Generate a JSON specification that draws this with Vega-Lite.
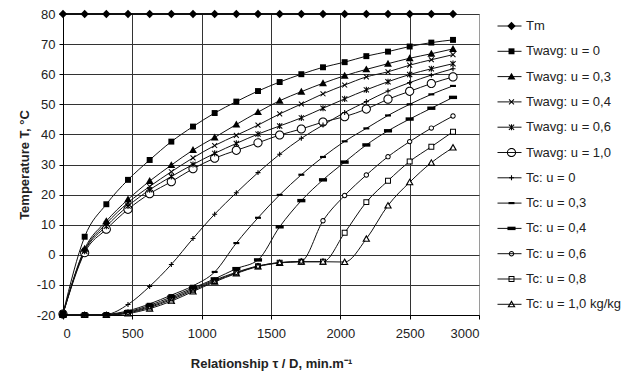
{
"$schema": "https://vega.github.io/schema/vega-lite/v6.json",
"width": 416, "height": 301,
"autosize": {"type": "none"},
"padding": {"left": 63, "top": 14, "right": 145, "bottom": 61},
"background": "white",
"config": {
  "font": "Liberation Sans",
  "view": {"stroke": "#9a9a9a", "strokeWidth": 1},
  "axis": {"labelFont": "Liberation Sans", "labelFontSize": 13, "labelColor": "#222", "titleFont": "Liberation Sans", "titleFontSize": 13, "titleFontWeight": "bold", "titleColor": "#222", "domainColor": "#000", "tickColor": "#000", "tickSize": 4, "gridColor": "#333", "gridOpacity": 1, "gridWidth": 1}
},
"data": {"values": [
{"s":"Tm","x":0,"T":80},{"s":"Tm","x":156.25,"T":80},{"s":"Tm","x":312.5,"T":80},{"s":"Tm","x":468.75,"T":80},{"s":"Tm","x":625,"T":80},{"s":"Tm","x":781.25,"T":80},{"s":"Tm","x":937.5,"T":80},{"s":"Tm","x":1093.75,"T":80},{"s":"Tm","x":1250,"T":80},{"s":"Tm","x":1406.25,"T":80},{"s":"Tm","x":1562.5,"T":80},{"s":"Tm","x":1718.75,"T":80},{"s":"Tm","x":1875,"T":80},{"s":"Tm","x":2031.25,"T":80},{"s":"Tm","x":2187.5,"T":80},{"s":"Tm","x":2343.75,"T":80},{"s":"Tm","x":2500,"T":80},{"s":"Tm","x":2656.25,"T":80},{"s":"Tm","x":2812.5,"T":80},
{"s":"Twavg: u = 0","x":0,"T":-19.5},{"s":"Twavg: u = 0","x":156.25,"T":6.0},{"s":"Twavg: u = 0","x":312.5,"T":16.8},{"s":"Twavg: u = 0","x":468.75,"T":24.9},{"s":"Twavg: u = 0","x":625,"T":31.5},{"s":"Twavg: u = 0","x":781.25,"T":37.6},{"s":"Twavg: u = 0","x":937.5,"T":42.6},{"s":"Twavg: u = 0","x":1093.75,"T":47.1},{"s":"Twavg: u = 0","x":1250,"T":50.9},{"s":"Twavg: u = 0","x":1406.25,"T":54.4},{"s":"Twavg: u = 0","x":1562.5,"T":57.4},{"s":"Twavg: u = 0","x":1718.75,"T":60.0},{"s":"Twavg: u = 0","x":1875,"T":62.3},{"s":"Twavg: u = 0","x":2031.25,"T":64.0},{"s":"Twavg: u = 0","x":2187.5,"T":66.0},{"s":"Twavg: u = 0","x":2343.75,"T":67.5},{"s":"Twavg: u = 0","x":2500,"T":69.2},{"s":"Twavg: u = 0","x":2656.25,"T":70.5},{"s":"Twavg: u = 0","x":2812.5,"T":71.4},
{"s":"Twavg: u = 0,3","x":0,"T":-19.5},{"s":"Twavg: u = 0,3","x":156.25,"T":2.0},{"s":"Twavg: u = 0,3","x":312.5,"T":11.2},{"s":"Twavg: u = 0,3","x":468.75,"T":18.4},{"s":"Twavg: u = 0,3","x":625,"T":24.5},{"s":"Twavg: u = 0,3","x":781.25,"T":29.8},{"s":"Twavg: u = 0,3","x":937.5,"T":34.8},{"s":"Twavg: u = 0,3","x":1093.75,"T":39.0},{"s":"Twavg: u = 0,3","x":1250,"T":43.3},{"s":"Twavg: u = 0,3","x":1406.25,"T":47.4},{"s":"Twavg: u = 0,3","x":1562.5,"T":51.2},{"s":"Twavg: u = 0,3","x":1718.75,"T":54.2},{"s":"Twavg: u = 0,3","x":1875,"T":57.0},{"s":"Twavg: u = 0,3","x":2031.25,"T":59.5},{"s":"Twavg: u = 0,3","x":2187.5,"T":61.6},{"s":"Twavg: u = 0,3","x":2343.75,"T":63.5},{"s":"Twavg: u = 0,3","x":2500,"T":65.3},{"s":"Twavg: u = 0,3","x":2656.25,"T":66.8},{"s":"Twavg: u = 0,3","x":2812.5,"T":68.4},
{"s":"Twavg: u = 0,4","x":0,"T":-19.5},{"s":"Twavg: u = 0,4","x":156.25,"T":1.5},{"s":"Twavg: u = 0,4","x":312.5,"T":10.4},{"s":"Twavg: u = 0,4","x":468.75,"T":17.3},{"s":"Twavg: u = 0,4","x":625,"T":22.7},{"s":"Twavg: u = 0,4","x":781.25,"T":27.6},{"s":"Twavg: u = 0,4","x":937.5,"T":32.2},{"s":"Twavg: u = 0,4","x":1093.75,"T":36.3},{"s":"Twavg: u = 0,4","x":1250,"T":39.7},{"s":"Twavg: u = 0,4","x":1406.25,"T":43.1},{"s":"Twavg: u = 0,4","x":1562.5,"T":46.8},{"s":"Twavg: u = 0,4","x":1718.75,"T":50.1},{"s":"Twavg: u = 0,4","x":1875,"T":53.5},{"s":"Twavg: u = 0,4","x":2031.25,"T":56.4},{"s":"Twavg: u = 0,4","x":2187.5,"T":59.1},{"s":"Twavg: u = 0,4","x":2343.75,"T":60.8},{"s":"Twavg: u = 0,4","x":2500,"T":63.0},{"s":"Twavg: u = 0,4","x":2656.25,"T":64.8},{"s":"Twavg: u = 0,4","x":2812.5,"T":66.5},
{"s":"Twavg: u = 0,6","x":0,"T":-19.5},{"s":"Twavg: u = 0,6","x":156.25,"T":1.2},{"s":"Twavg: u = 0,6","x":312.5,"T":9.5},{"s":"Twavg: u = 0,6","x":468.75,"T":16.2},{"s":"Twavg: u = 0,6","x":625,"T":21.6},{"s":"Twavg: u = 0,6","x":781.25,"T":26.0},{"s":"Twavg: u = 0,6","x":937.5,"T":30.0},{"s":"Twavg: u = 0,6","x":1093.75,"T":33.7},{"s":"Twavg: u = 0,6","x":1250,"T":37.0},{"s":"Twavg: u = 0,6","x":1406.25,"T":40.1},{"s":"Twavg: u = 0,6","x":1562.5,"T":42.8},{"s":"Twavg: u = 0,6","x":1718.75,"T":45.5},{"s":"Twavg: u = 0,6","x":1875,"T":48.7},{"s":"Twavg: u = 0,6","x":2031.25,"T":51.8},{"s":"Twavg: u = 0,6","x":2187.5,"T":54.8},{"s":"Twavg: u = 0,6","x":2343.75,"T":57.5},{"s":"Twavg: u = 0,6","x":2500,"T":59.9},{"s":"Twavg: u = 0,6","x":2656.25,"T":61.8},{"s":"Twavg: u = 0,6","x":2812.5,"T":63.5},
{"s":"Twavg: u = 1,0","x":0,"T":-19.7},{"s":"Twavg: u = 1,0","x":156.25,"T":0.7},{"s":"Twavg: u = 1,0","x":312.5,"T":8.5},{"s":"Twavg: u = 1,0","x":468.75,"T":15.1},{"s":"Twavg: u = 1,0","x":625,"T":20.3},{"s":"Twavg: u = 1,0","x":781.25,"T":24.3},{"s":"Twavg: u = 1,0","x":937.5,"T":28.6},{"s":"Twavg: u = 1,0","x":1093.75,"T":32.1},{"s":"Twavg: u = 1,0","x":1250,"T":34.7},{"s":"Twavg: u = 1,0","x":1406.25,"T":37.2},{"s":"Twavg: u = 1,0","x":1562.5,"T":39.8},{"s":"Twavg: u = 1,0","x":1718.75,"T":41.8},{"s":"Twavg: u = 1,0","x":1875,"T":44.1},{"s":"Twavg: u = 1,0","x":2031.25,"T":45.9},{"s":"Twavg: u = 1,0","x":2187.5,"T":48.4},{"s":"Twavg: u = 1,0","x":2343.75,"T":51.7},{"s":"Twavg: u = 1,0","x":2500,"T":54.3},{"s":"Twavg: u = 1,0","x":2656.25,"T":56.9},{"s":"Twavg: u = 1,0","x":2812.5,"T":59.1},
{"s":"Tc: u = 0","x":0,"T":-20},{"s":"Tc: u = 0","x":156.25,"T":-20},{"s":"Tc: u = 0","x":312.5,"T":-19.8},{"s":"Tc: u = 0","x":468.75,"T":-16.5},{"s":"Tc: u = 0","x":625,"T":-10.5},{"s":"Tc: u = 0","x":781.25,"T":-3.2},{"s":"Tc: u = 0","x":937.5,"T":5.4},{"s":"Tc: u = 0","x":1093.75,"T":13.5},{"s":"Tc: u = 0","x":1250,"T":20.6},{"s":"Tc: u = 0","x":1406.25,"T":27.3},{"s":"Tc: u = 0","x":1562.5,"T":33.4},{"s":"Tc: u = 0","x":1718.75,"T":38.7},{"s":"Tc: u = 0","x":1875,"T":43.1},{"s":"Tc: u = 0","x":2031.25,"T":47.3},{"s":"Tc: u = 0","x":2187.5,"T":50.9},{"s":"Tc: u = 0","x":2343.75,"T":54.4},{"s":"Tc: u = 0","x":2500,"T":57.2},{"s":"Tc: u = 0","x":2656.25,"T":59.7},{"s":"Tc: u = 0","x":2812.5,"T":61.8},
{"s":"Tc: u = 0,3","x":0,"T":-20},{"s":"Tc: u = 0,3","x":156.25,"T":-20},{"s":"Tc: u = 0,3","x":312.5,"T":-19.8},{"s":"Tc: u = 0,3","x":468.75,"T":-18.6},{"s":"Tc: u = 0,3","x":625,"T":-16.3},{"s":"Tc: u = 0,3","x":781.25,"T":-13.4},{"s":"Tc: u = 0,3","x":937.5,"T":-10.3},{"s":"Tc: u = 0,3","x":1093.75,"T":-5.7},{"s":"Tc: u = 0,3","x":1250,"T":3.9},{"s":"Tc: u = 0,3","x":1406.25,"T":12.3},{"s":"Tc: u = 0,3","x":1562.5,"T":19.9},{"s":"Tc: u = 0,3","x":1718.75,"T":26.6},{"s":"Tc: u = 0,3","x":1875,"T":32.5},{"s":"Tc: u = 0,3","x":2031.25,"T":37.7},{"s":"Tc: u = 0,3","x":2187.5,"T":42.0},{"s":"Tc: u = 0,3","x":2343.75,"T":46.3},{"s":"Tc: u = 0,3","x":2500,"T":50.0},{"s":"Tc: u = 0,3","x":2656.25,"T":53.3},{"s":"Tc: u = 0,3","x":2812.5,"T":56.1},
{"s":"Tc: u = 0,4","x":0,"T":-20},{"s":"Tc: u = 0,4","x":156.25,"T":-20},{"s":"Tc: u = 0,4","x":312.5,"T":-19.9},{"s":"Tc: u = 0,4","x":468.75,"T":-18.9},{"s":"Tc: u = 0,4","x":625,"T":-16.8},{"s":"Tc: u = 0,4","x":781.25,"T":-14.0},{"s":"Tc: u = 0,4","x":937.5,"T":-11.0},{"s":"Tc: u = 0,4","x":1093.75,"T":-8.0},{"s":"Tc: u = 0,4","x":1250,"T":-4.6},{"s":"Tc: u = 0,4","x":1406.25,"T":-1.7},{"s":"Tc: u = 0,4","x":1562.5,"T":9.3},{"s":"Tc: u = 0,4","x":1718.75,"T":18.0},{"s":"Tc: u = 0,4","x":1875,"T":24.9},{"s":"Tc: u = 0,4","x":2031.25,"T":30.8},{"s":"Tc: u = 0,4","x":2187.5,"T":36.5},{"s":"Tc: u = 0,4","x":2343.75,"T":41.2},{"s":"Tc: u = 0,4","x":2500,"T":45.1},{"s":"Tc: u = 0,4","x":2656.25,"T":48.7},{"s":"Tc: u = 0,4","x":2812.5,"T":52.3},
{"s":"Tc: u = 0,6","x":0,"T":-20},{"s":"Tc: u = 0,6","x":156.25,"T":-20},{"s":"Tc: u = 0,6","x":312.5,"T":-19.9},{"s":"Tc: u = 0,6","x":468.75,"T":-19.1},{"s":"Tc: u = 0,6","x":625,"T":-17.2},{"s":"Tc: u = 0,6","x":781.25,"T":-14.5},{"s":"Tc: u = 0,6","x":937.5,"T":-11.4},{"s":"Tc: u = 0,6","x":1093.75,"T":-8.4},{"s":"Tc: u = 0,6","x":1250,"T":-5.8},{"s":"Tc: u = 0,6","x":1406.25,"T":-3.7},{"s":"Tc: u = 0,6","x":1562.5,"T":-2.6},{"s":"Tc: u = 0,6","x":1718.75,"T":-2.1},{"s":"Tc: u = 0,6","x":1875,"T":11.3},{"s":"Tc: u = 0,6","x":2031.25,"T":19.7},{"s":"Tc: u = 0,6","x":2187.5,"T":26.5},{"s":"Tc: u = 0,6","x":2343.75,"T":32.6},{"s":"Tc: u = 0,6","x":2500,"T":37.6},{"s":"Tc: u = 0,6","x":2656.25,"T":42.1},{"s":"Tc: u = 0,6","x":2812.5,"T":46.1},
{"s":"Tc: u = 0,8","x":0,"T":-20},{"s":"Tc: u = 0,8","x":156.25,"T":-20},{"s":"Tc: u = 0,8","x":312.5,"T":-20},{"s":"Tc: u = 0,8","x":468.75,"T":-19.3},{"s":"Tc: u = 0,8","x":625,"T":-17.5},{"s":"Tc: u = 0,8","x":781.25,"T":-14.9},{"s":"Tc: u = 0,8","x":937.5,"T":-11.8},{"s":"Tc: u = 0,8","x":1093.75,"T":-8.7},{"s":"Tc: u = 0,8","x":1250,"T":-6.0},{"s":"Tc: u = 0,8","x":1406.25,"T":-3.8},{"s":"Tc: u = 0,8","x":1562.5,"T":-2.6},{"s":"Tc: u = 0,8","x":1718.75,"T":-2.3},{"s":"Tc: u = 0,8","x":1875,"T":-2.3},{"s":"Tc: u = 0,8","x":2031.25,"T":7.3},{"s":"Tc: u = 0,8","x":2187.5,"T":17.5},{"s":"Tc: u = 0,8","x":2343.75,"T":24.6},{"s":"Tc: u = 0,8","x":2500,"T":31.0},{"s":"Tc: u = 0,8","x":2656.25,"T":35.9},{"s":"Tc: u = 0,8","x":2812.5,"T":40.9},
{"s":"Tc: u = 1,0 kg/kg","x":0,"T":-20},{"s":"Tc: u = 1,0 kg/kg","x":156.25,"T":-20},{"s":"Tc: u = 1,0 kg/kg","x":312.5,"T":-20},{"s":"Tc: u = 1,0 kg/kg","x":468.75,"T":-19.5},{"s":"Tc: u = 1,0 kg/kg","x":625,"T":-17.9},{"s":"Tc: u = 1,0 kg/kg","x":781.25,"T":-15.4},{"s":"Tc: u = 1,0 kg/kg","x":937.5,"T":-12.2},{"s":"Tc: u = 1,0 kg/kg","x":1093.75,"T":-9.0},{"s":"Tc: u = 1,0 kg/kg","x":1250,"T":-6.2},{"s":"Tc: u = 1,0 kg/kg","x":1406.25,"T":-3.9},{"s":"Tc: u = 1,0 kg/kg","x":1562.5,"T":-2.7},{"s":"Tc: u = 1,0 kg/kg","x":1718.75,"T":-2.3},{"s":"Tc: u = 1,0 kg/kg","x":1875,"T":-2.3},{"s":"Tc: u = 1,0 kg/kg","x":2031.25,"T":-2.4},{"s":"Tc: u = 1,0 kg/kg","x":2187.5,"T":5.3},{"s":"Tc: u = 1,0 kg/kg","x":2343.75,"T":16.4},{"s":"Tc: u = 1,0 kg/kg","x":2500,"T":24.1},{"s":"Tc: u = 1,0 kg/kg","x":2656.25,"T":30.6},{"s":"Tc: u = 1,0 kg/kg","x":2812.5,"T":35.6}
]},
"encoding": {
  "x": {"field": "x", "type": "quantitative", "scale": {"domain": [0, 3000], "nice": false},
    "axis": {"values": [0,500,1000,1500,2000,2500,3000], "labelExpr": "'' + datum.value", "title": "Relationship τ / D,  min.m⁻¹", "labelPadding": 8, "titlePadding": 17,
      "gridColor": {"condition": {"test": "datum.value == 3000", "value": "#9a9a9a"}, "value": "#333"}}},
  "y": {"field": "T", "type": "quantitative", "scale": {"domain": [-20, 80], "nice": false},
    "axis": {"values": [-20,-10,0,10,20,30,40,50,60,70,80], "labelExpr": "'' + datum.value", "title": "Temperature  T, °C", "labelPadding": 4, "titlePadding": 5}}
},
"resolve": {"scale": {"shape": "independent"}, "legend": {"shape": "independent"}},
"layer": [
  {"mark": {"type": "line", "interpolate": "monotone", "strokeWidth": 1},
   "encoding": {
     "detail": {"field": "s"},
     "color": {"field": "s", "type": "nominal",
       "sort": ["Tm","Twavg: u = 0","Twavg: u = 0,3","Twavg: u = 0,4","Twavg: u = 0,6","Twavg: u = 1,0","Tc: u = 0","Tc: u = 0,3","Tc: u = 0,4","Tc: u = 0,6","Tc: u = 0,8","Tc: u = 1,0 kg/kg"],
       "scale": {"range": ["#111","#111","#111","#111","#111","#111","#111","#111","#111","#111","#111","#111"]},
       "legend": {"orient": "none", "legendX": 434, "legendY": -0.5, "title": null, "padding": 0, "symbolType": "stroke", "symbolSize": 576, "symbolStrokeWidth": 1, "rowPadding": 5.3, "labelFont": "Liberation Sans", "labelFontSize": 13, "labelColor": "#222", "labelOffset": 4, "labelLimit": 300}}
   }},
  {"transform": [{"filter": "datum.s == 'Tm'"}],
   "mark": {"type": "line", "strokeWidth": 2, "color": "#111"},
   "encoding": {}},
  {"transform": [{"filter": {"field": "s", "oneOf": ["Twavg: u = 1,0", "Tc: u = 0,6", "Tc: u = 0,8", "Tc: u = 1,0 kg/kg"]}}],
   "mark": {"type": "point", "size": 81, "filled": true, "fill": "#fff", "strokeWidth": 0, "opacity": 1},
   "encoding": {
     "shape": {"field": "s", "type": "nominal", "legend": null,
       "scale": {"domain": ["Twavg: u = 1,0", "Tc: u = 0,6", "Tc: u = 0,8", "Tc: u = 1,0 kg/kg"],
         "range": ["M-0.85,0A0.85,0.85,0,1,1,0.85,0A0.85,0.85,0,1,1,-0.85,0Z","M-0.4,0A0.4,0.4,0,1,1,0.4,0A0.4,0.4,0,1,1,-0.4,0Z","M-0.45,-0.45H0.45V0.45H-0.45Z","M0,-0.4L0.46,0.42H-0.46Z"]}}
   }},
  {"mark": {"type": "point", "size": 81, "filled": true, "fill": "#000", "strokeWidth": 0, "opacity": 1},
   "encoding": {
     "shape": {"field": "s", "type": "nominal",
       "scale": {"domain": ["Tm","Twavg: u = 0","Twavg: u = 0,3","Twavg: u = 0,4","Twavg: u = 0,6","Twavg: u = 1,0","Tc: u = 0","Tc: u = 0,3","Tc: u = 0,4","Tc: u = 0,6","Tc: u = 0,8","Tc: u = 1,0 kg/kg"],
         "range": [
           "M0,-0.92L0.92,0L0,0.92L-0.92,0Z",
           "M-0.66,-0.66H0.66V0.66H-0.66Z",
           "M0,-0.88L0.88,0.66H-0.88Z",
           "M-0.47,-0.63L0.63,0.47L0.47,0.63L-0.63,-0.47ZM0.47,-0.63L0.63,-0.47L-0.47,0.63L-0.63,0.47Z",
           "M-0.5,-0.66L0.66,0.5L0.5,0.66L-0.66,-0.5ZM0.5,-0.66L0.66,-0.5L-0.5,0.66L-0.66,0.5ZM-0.12,-0.68H0.12V0.68H-0.12Z",
           "M-1.02,0A1.02,1.02,0,1,1,1.02,0A1.02,1.02,0,1,1,-1.02,0ZM-0.8,0A0.8,0.8,0,1,0,0.8,0A0.8,0.8,0,1,0,-0.8,0Z",
           "M-0.55,-0.12H0.55V0.12H-0.55ZM-0.12,-0.55H0.12V0.55H-0.12Z",
           "M-0.66,-0.24H0.66V0.24H-0.66Z",
           "M-0.9,-0.38H0.9V0.38H-0.9Z",
           "M-0.6,0A0.6,0.6,0,1,1,0.6,0A0.6,0.6,0,1,1,-0.6,0ZM-0.38,0A0.38,0.38,0,1,0,0.38,0A0.38,0.38,0,1,0,-0.38,0Z",
           "M-0.66,-0.66H0.66V0.66H-0.66ZM-0.44,-0.44V0.44H0.44V-0.44Z",
           "M0,-0.9L0.9,0.66H-0.9ZM0,-0.42L-0.47,0.44H0.47Z"]},
       "legend": {"orient": "none", "legendX": 442, "legendY": 5.5, "title": null, "padding": 0, "symbolSize": 81, "symbolFillColor": "#000", "symbolStrokeColor": "transparent", "symbolStrokeWidth": 0, "rowPadding": 11.3, "labelFont": "Liberation Sans", "labelFontSize": 13, "labelOpacity": 0, "labelColor": "transparent", "labelOffset": 4}}
   }}
]
}
